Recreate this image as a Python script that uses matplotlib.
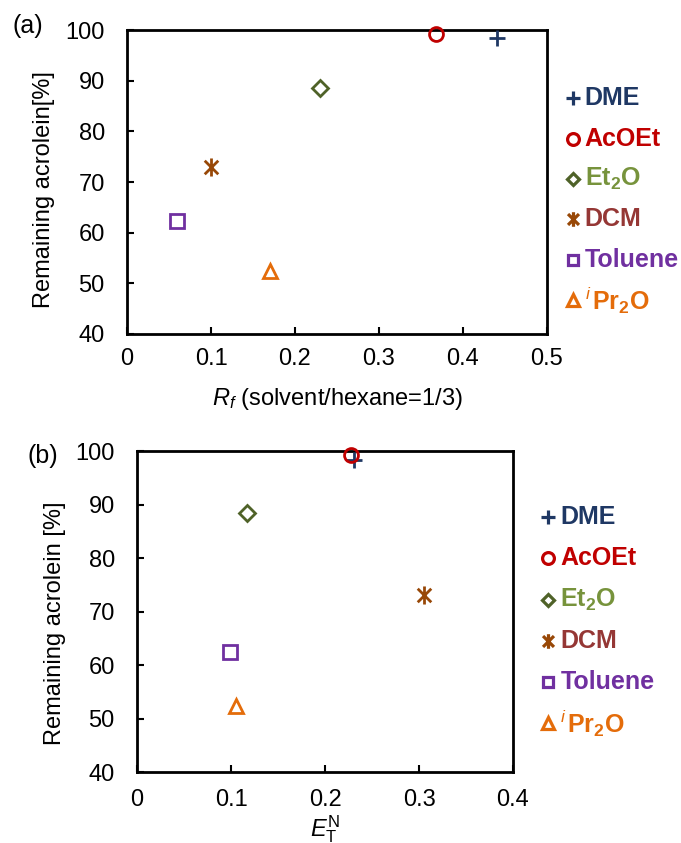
import matplotlib
matplotlib.use("Agg")
import matplotlib.pyplot as plt
from matplotlib.path import Path

plt.rcParams['font.family'] = ['Liberation Sans', 'DejaVu Sans']
plt.rcParams['mathtext.fontset'] = 'custom'
plt.rcParams['mathtext.rm'] = 'Liberation Sans'
plt.rcParams['mathtext.it'] = 'Liberation Sans:italic'
plt.rcParams['mathtext.bf'] = 'Liberation Sans:bold'

# Solvent screening data
solvents = ['DME', 'AcOEt', 'Et2O', 'DCM', 'Toluene', 'iPr2O']
labels = ['DME', 'AcOEt', r'Et$_\mathbf{2}$O', 'DCM', 'Toluene', r'$^{\mathit{i}\,}$Pr$_\mathbf{2}$O']
rf_values = [0.44, 0.368, 0.23, 0.10, 0.06, 0.17]
et_n_values = [0.231, 0.228, 0.117, 0.305, 0.099, 0.105]
remaining = [98.4, 99.3, 88.5, 73.0, 62.4, 52.4]

# Asterisk marker: vertical stroke plus a cross
star = Path([(0, -1), (0, 1), (-0.75, -0.75), (0.75, 0.75), (-0.75, 0.75), (0.75, -0.75)],
            [Path.MOVETO, Path.LINETO, Path.MOVETO, Path.LINETO, Path.MOVETO, Path.LINETO])

markers = ['+', 'o', 'D', star, 's', '^']
msizes = [12, 10, 8, 13, 9.5, 10]
lgsizes = [10.5, 8.5, 6.5, 10.5, 7.5, 8]
marker_colors = ['#1F3864', '#C00000', '#4F6228', '#984807', '#7030A0', '#E46C0A']
text_colors = ['#1F3864', '#C00000', '#77933C', '#953735', '#7030A0', '#E46C0A']

fig = plt.figure(figsize=(6.81, 8.43), dpi=100)
ax_a = fig.add_axes([0.1865, 0.6038, 0.6167, 0.3606])
ax_b = fig.add_axes([0.2012, 0.0842, 0.5521, 0.3808])


def draw_panel(ax, xvals, xlim, xticks, xticklabels, xlabel, ylabel, ylab_pos,
               leg_mx, leg_tx, leg_y0, leg_dy, xpad):
    for i in range(len(solvents)):
        ax.plot(xvals[i], remaining[i], linestyle='none', marker=markers[i],
                markersize=msizes[i], markeredgewidth=2.0, markerfacecolor='none',
                markeredgecolor=marker_colors[i], clip_on=False, zorder=3)
        # legend entry
        y = leg_y0 - i * leg_dy
        ax.plot(leg_mx, y, linestyle='none', marker=markers[i], markersize=lgsizes[i],
                markeredgewidth=2.3, markerfacecolor='none',
                markeredgecolor=marker_colors[i], transform=ax.transAxes, clip_on=False)
        ax.text(leg_tx, y, labels[i], color=text_colors[i], fontsize=18,
                fontweight='bold', ha='left', va='center', transform=ax.transAxes)
    ax.set_xlim(*xlim)
    ax.set_ylim(40, 100)
    ax.set_xticks(xticks)
    ax.set_xticklabels(xticklabels)
    ax.set_yticks(range(40, 101, 10))
    ax.tick_params(direction='in', length=5, width=1.5, labelsize=17, colors='black')
    ax.tick_params(axis='x', pad=xpad, top=False)
    ax.tick_params(axis='y', pad=16, right=False)
    for sp in ax.spines.values():
        sp.set_linewidth(2.0)
        sp.set_color('black')
    ax.set_xlabel(xlabel, fontsize=17)
    ax.set_ylabel(ylabel, fontsize=17)
    ax.yaxis.set_label_coords(*ylab_pos)


draw_panel(ax_a, rf_values, (0, 0.5), [0, 0.1, 0.2, 0.3, 0.4, 0.5],
           ['0', '0.1', '0.2', '0.3', '0.4', '0.5'],
           r'$\mathit{R}_{\mathit{f}}$ (solvent/hexane=1/3)', 'Remaining acrolein[%]',
           (-0.171, 0.474), 1.062, 1.09, 0.776, 0.1329, 10)
ax_a.xaxis.set_label_coords(0.5, -0.17)

draw_panel(ax_b, et_n_values, (0, 0.4), [0, 0.1, 0.2, 0.3, 0.4],
           ['0', '0.1', '0.2', '0.3', '0.4'],
           r'$\mathit{E}_\mathrm{T}^{\mathrm{N}}$', 'Remaining acrolein [%]',
           (-0.189, 0.464), 1.093, 1.126, 0.794, 0.1283, 12)
ax_b.xaxis.set_label_coords(0.5, -0.13)

fig.text(13 / 681, 1 - 26 / 843, '(a)', fontsize=18, ha='left', va='center')
fig.text(27 / 681, 1 - 456 / 843, '(b)', fontsize=18, ha='left', va='center')

fig.savefig('out.png', dpi=100)
